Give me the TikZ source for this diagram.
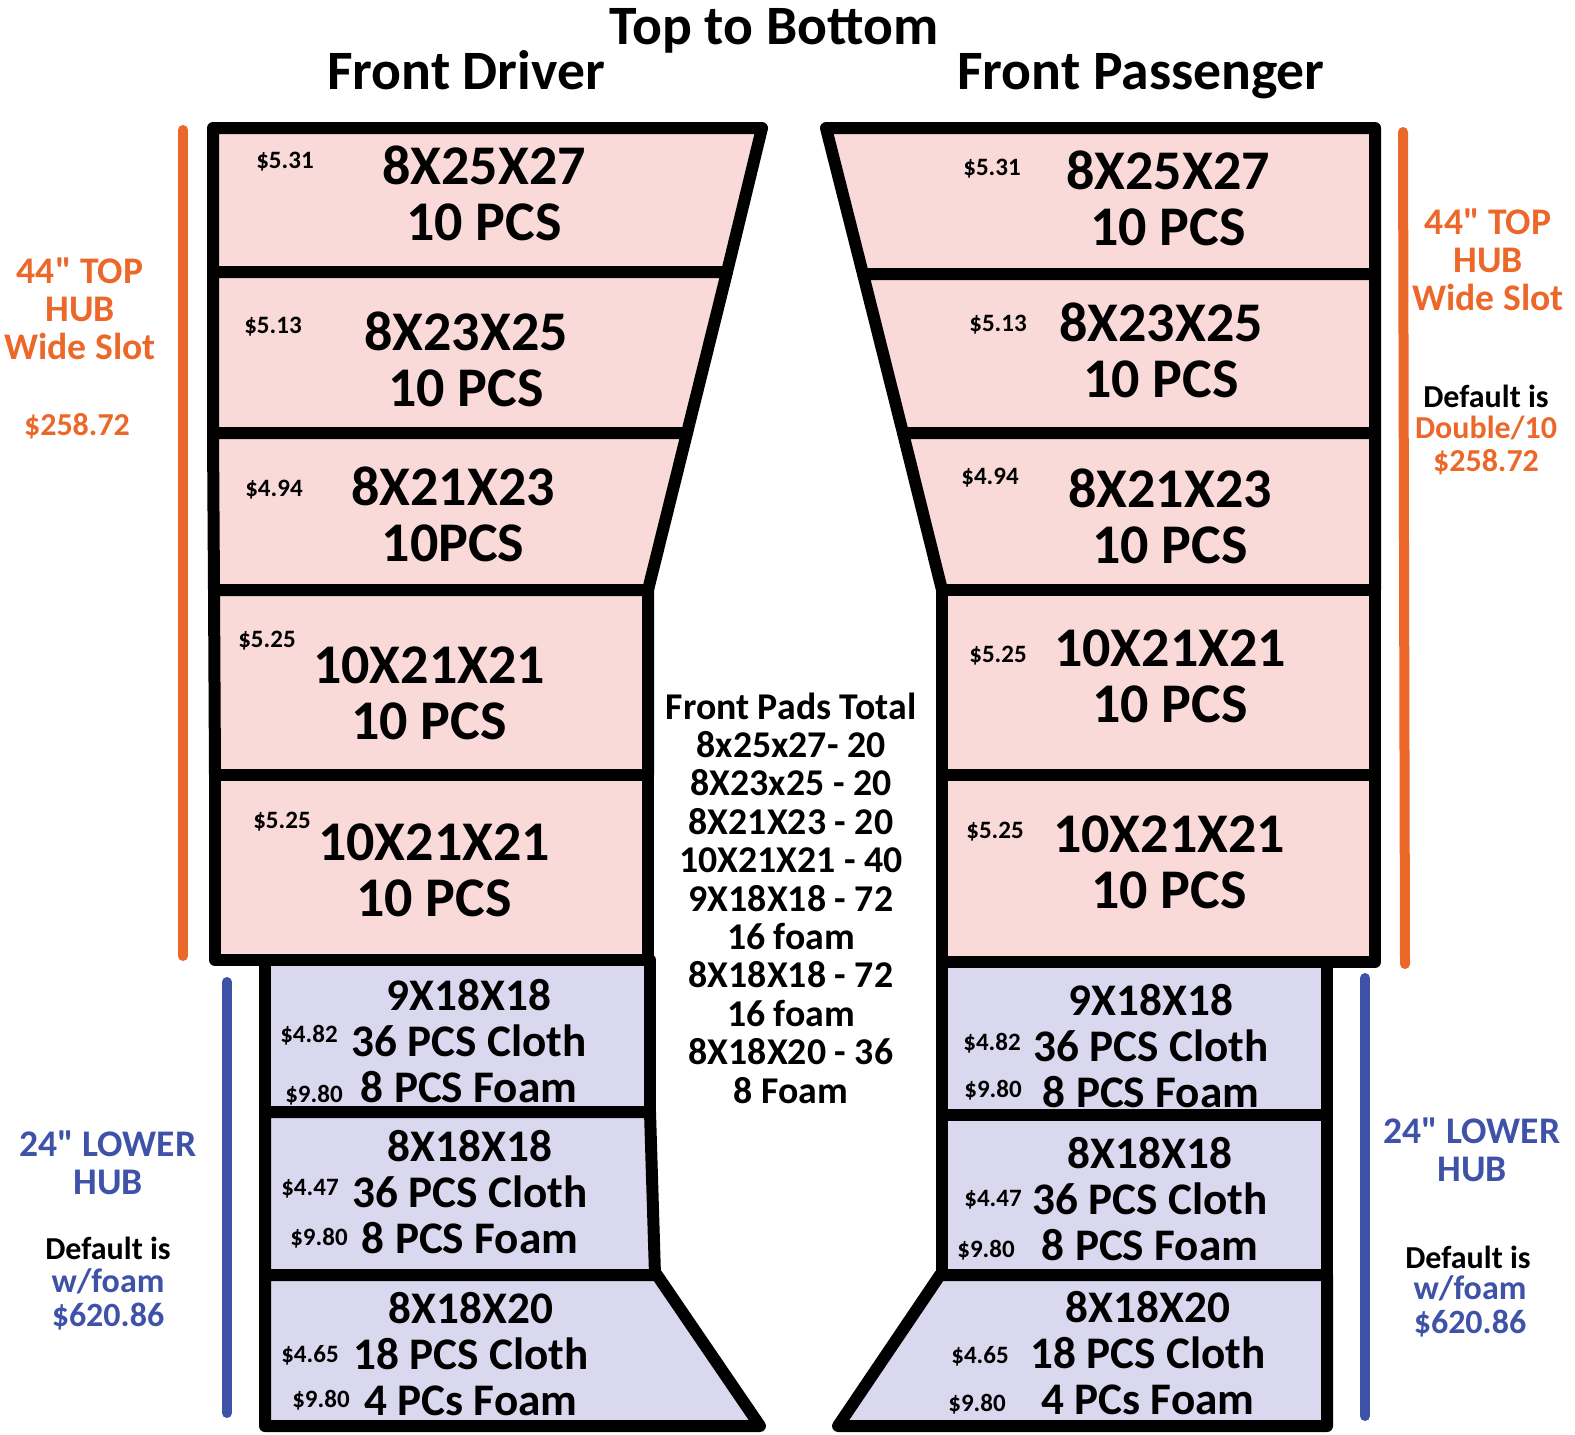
\documentclass[tikz,border=0pt]{standalone}
\usepackage{fontspec}
\setmainfont{Carlito}[Ligatures=TeXOff]
\usepackage{xcolor}
\usetikzlibrary{positioning}

\definecolor{hubOrange}{RGB}{236,104,42}
\definecolor{hubBlue}{RGB}{62,82,168}
\definecolor{padPink}{RGB}{250,218,216}
\definecolor{padLav}{RGB}{218,216,238}

\begin{document}
\begin{tikzpicture}[
        x=0.5pt, y=-0.5pt,
        pinkcell/.style={draw, line width=6pt, line join=round, fill=padPink},
        bluecell/.style={draw, line width=6pt, line join=round, fill=padLav},
        hubbar/.style={line width=5pt, line cap=round},
        headtxt/.style={font=\fontsize{27.8}{28}\selectfont\bfseries, inner sep=0pt, anchor=base},
        sizetxt/.style={font=\fontsize{28}{28}\selectfont\bfseries, align=center, inner sep=0pt},
        lowtxt/.style={font=\fontsize{22.6}{23}\selectfont\bfseries, align=center, inner sep=0pt},
        price/.style={font=\fontsize{12.5}{13}\selectfont\bfseries, inner sep=0pt},
        totaltxt/.style={font=\fontsize{18.9}{19.2}\selectfont\bfseries, align=center, inner sep=0pt},
        hublabel/.style={font=\fontsize{18.8}{19}\selectfont\bfseries, align=center, inner sep=0pt},
        deflabel/.style={font=\fontsize{16}{16.5}\selectfont\bfseries, align=center, inner sep=0pt}
    ]
        \useasboundingbox (0,0) rectangle (1575,1435);

        % --- Headings ---
        \node[headtxt] (title) at (774,44) {Top to Bottom};
        \node[headtxt] (drvhead) at (466,89) {Front Driver};
        \node[headtxt] (pashead) at (1141,89) {Front Passenger};

        % --- Front Driver: top hub ---
        \draw[pinkcell] (213,128) -- (762,128) -- (727,272) -- (213,272) -- cycle;
        \draw[pinkcell] (213,272) -- (727,272) -- (687,433) -- (213,433) -- cycle;
        \draw[pinkcell] (213,433) -- (687,433) -- (648,590) -- (214,590) -- cycle;
        \draw[pinkcell] (214,590) -- (648,590) -- (648,775) -- (215,775) -- cycle;
        \draw[pinkcell] (215,775) -- (648,775) -- (648,960) -- (215,960) -- cycle;

        % --- Front Driver: lower hub ---
        \draw[bluecell] (265,960) -- (650,960) -- (650,1112) -- (265,1112) -- cycle;
        \draw[bluecell] (265,1112) -- (650,1112) -- (655,1275) -- (265,1275) -- cycle;
        \draw[bluecell] (265,1275) -- (657,1275) -- (760,1426) -- (265,1426) -- cycle;

        % --- Front Passenger: top hub ---
        \draw[pinkcell] (826,128) -- (1375,128) -- (1375,274) -- (863,274) -- cycle;
        \draw[pinkcell] (863,274) -- (1375,274) -- (1375,433) -- (903,433) -- cycle;
        \draw[pinkcell] (903,433) -- (1375,433) -- (1375,590) -- (942,590) -- cycle;
        \draw[pinkcell] (942,590) -- (1375,590) -- (1375,775) -- (942,775) -- cycle;
        \draw[pinkcell] (942,775) -- (1375,775) -- (1375,962) -- (942,962) -- cycle;

        % --- Front Passenger: lower hub ---
        \draw[bluecell] (942,962) -- (1327,962) -- (1327,1115) -- (942,1115) -- cycle;
        \draw[bluecell] (942,1115) -- (1327,1115) -- (1327,1275) -- (942,1275) -- cycle;
        \draw[bluecell] (940,1275) -- (1327,1275) -- (1327,1426) -- (838,1426) -- cycle;

        % Hub bars
        \draw[hubbar, hubOrange] (183,130) -- (183,956);
        \draw[hubbar, hubOrange] (1403,132) -- (1405,964);
        \draw[hubbar, hubBlue] (227,982) -- (227,1413);
        \draw[hubbar, hubBlue] (1365,978) -- (1365,1416);

        % --- Driver cell texts ---
        \node[sizetxt] (d1) at (484,193) {8X25X27\\10 PCS};
        \node[price] (d1p) at (285,162) {\$5.31};
        \node[sizetxt] (d2) at (466,359) {8X23X25\\10 PCS};
        \node[price] (d2p) at (273,327) {\$5.13};
        \node[sizetxt] (d3) at (453,514) {8X21X23\\10PCS};
        \node[price] (d3p) at (274,490) {\$4.94};
        \node[sizetxt] (d4) at (429,693) {10X21X21\\10 PCS};
        \node[price] (d4p) at (267,641) {\$5.25};
        \node[sizetxt] (d5) at (434,870) {10X21X21\\10 PCS};
        \node[price] (d5p) at (282,822) {\$5.25};

        \node[lowtxt] (d6) at (469,1041) {9X18X18\\36 PCS Cloth\\8 PCS Foam};
        \node[price] (d6a) at (309,1035) {\$4.82};
        \node[price] (d6b) at (314,1095) {\$9.80};
        \node[lowtxt] (d7) at (470,1192) {8X18X18\\36 PCS Cloth\\8 PCS Foam};
        \node[price] (d7a) at (310,1189) {\$4.47};
        \node[price] (d7b) at (319,1238) {\$9.80};
        \node[lowtxt] (d8) at (471,1354) {8X18X20\\18 PCS Cloth\\4 PCs Foam};
        \node[price] (d8a) at (310,1355) {\$4.65};
        \node[price] (d8b) at (321,1400) {\$9.80};

        % --- Passenger cell texts ---
        \node[sizetxt] (p1) at (1168,198) {8X25X27\\10 PCS};
        \node[price] (p1p) at (992,169) {\$5.31};
        \node[sizetxt] (p2) at (1161,350) {8X23X25\\10 PCS};
        \node[price] (p2p) at (998,325) {\$5.13};
        \node[sizetxt] (p3) at (1170,516) {8X21X23\\10 PCS};
        \node[price] (p3p) at (990,478) {\$4.94};
        \node[sizetxt] (p4) at (1170,676) {10X21X21\\10 PCS};
        \node[price] (p4p) at (998,656) {\$5.25};
        \node[sizetxt] (p5) at (1169,862) {10X21X21\\10 PCS};
        \node[price] (p5p) at (995,832) {\$5.25};

        \node[lowtxt] (p6) at (1151,1046) {9X18X18\\36 PCS Cloth\\8 PCS Foam};
        \node[price] (p6a) at (992,1043) {\$4.82};
        \node[price] (p6b) at (993,1090) {\$9.80};
        \node[lowtxt] (p7) at (1150,1199) {8X18X18\\36 PCS Cloth\\8 PCS Foam};
        \node[price] (p7a) at (993,1200) {\$4.47};
        \node[price] (p7b) at (986,1250) {\$9.80};
        \node[lowtxt] (p8) at (1148,1353) {8X18X20\\18 PCS Cloth\\4 PCs Foam};
        \node[price] (p8a) at (980,1356) {\$4.65};
        \node[price] (p8b) at (977,1404) {\$9.80};

        % --- Middle: totals ---
        \node[totaltxt] (totals) at (791,898) {Front Pads Total\\8x25x27- 20\\8X23x25 - 20\\8X21X23 - 20\\10X21X21 - 40\\9X18X18 - 72\\16 foam\\8X18X18 - 72\\16 foam\\8X18X20 - 36\\8 Foam};

        % --- Side labels ---
        \node[hublabel, hubOrange] (tophubL) at (80,309) {44" TOP\\HUB\\Wide Slot};
        \node[deflabel, hubOrange] (topcostL) at (77,426) {\$258.72};
        \node[hublabel, hubOrange] (tophubR) at (1488,260) {44" TOP\\HUB\\Wide Slot};
        \node[deflabel] (topdefR) at (1486,396) {Default is};
        \node[deflabel, hubOrange] (topcostR) at (1486,445) {Double/10\\\$258.72};

        \node[hublabel, hubBlue] (lowhubL) at (108,1163) {24" LOWER\\HUB};
        \node[deflabel] (lowdefL) at (108,1248) {Default is};
        \node[hublabel, hubBlue, font=\fontsize{17}{17}\selectfont\bfseries] (lowcostL) at (108,1299) {w/foam\\\$620.86};
        \node[hublabel, hubBlue] (lowhubR) at (1472,1150) {24" LOWER\\HUB};
        \node[deflabel] (lowdefR) at (1468,1257) {Default is};
        \node[hublabel, hubBlue, font=\fontsize{17}{17}\selectfont\bfseries] (lowcostR) at (1470,1306) {w/foam\\\$620.86};

    \end{tikzpicture}
\end{document}
